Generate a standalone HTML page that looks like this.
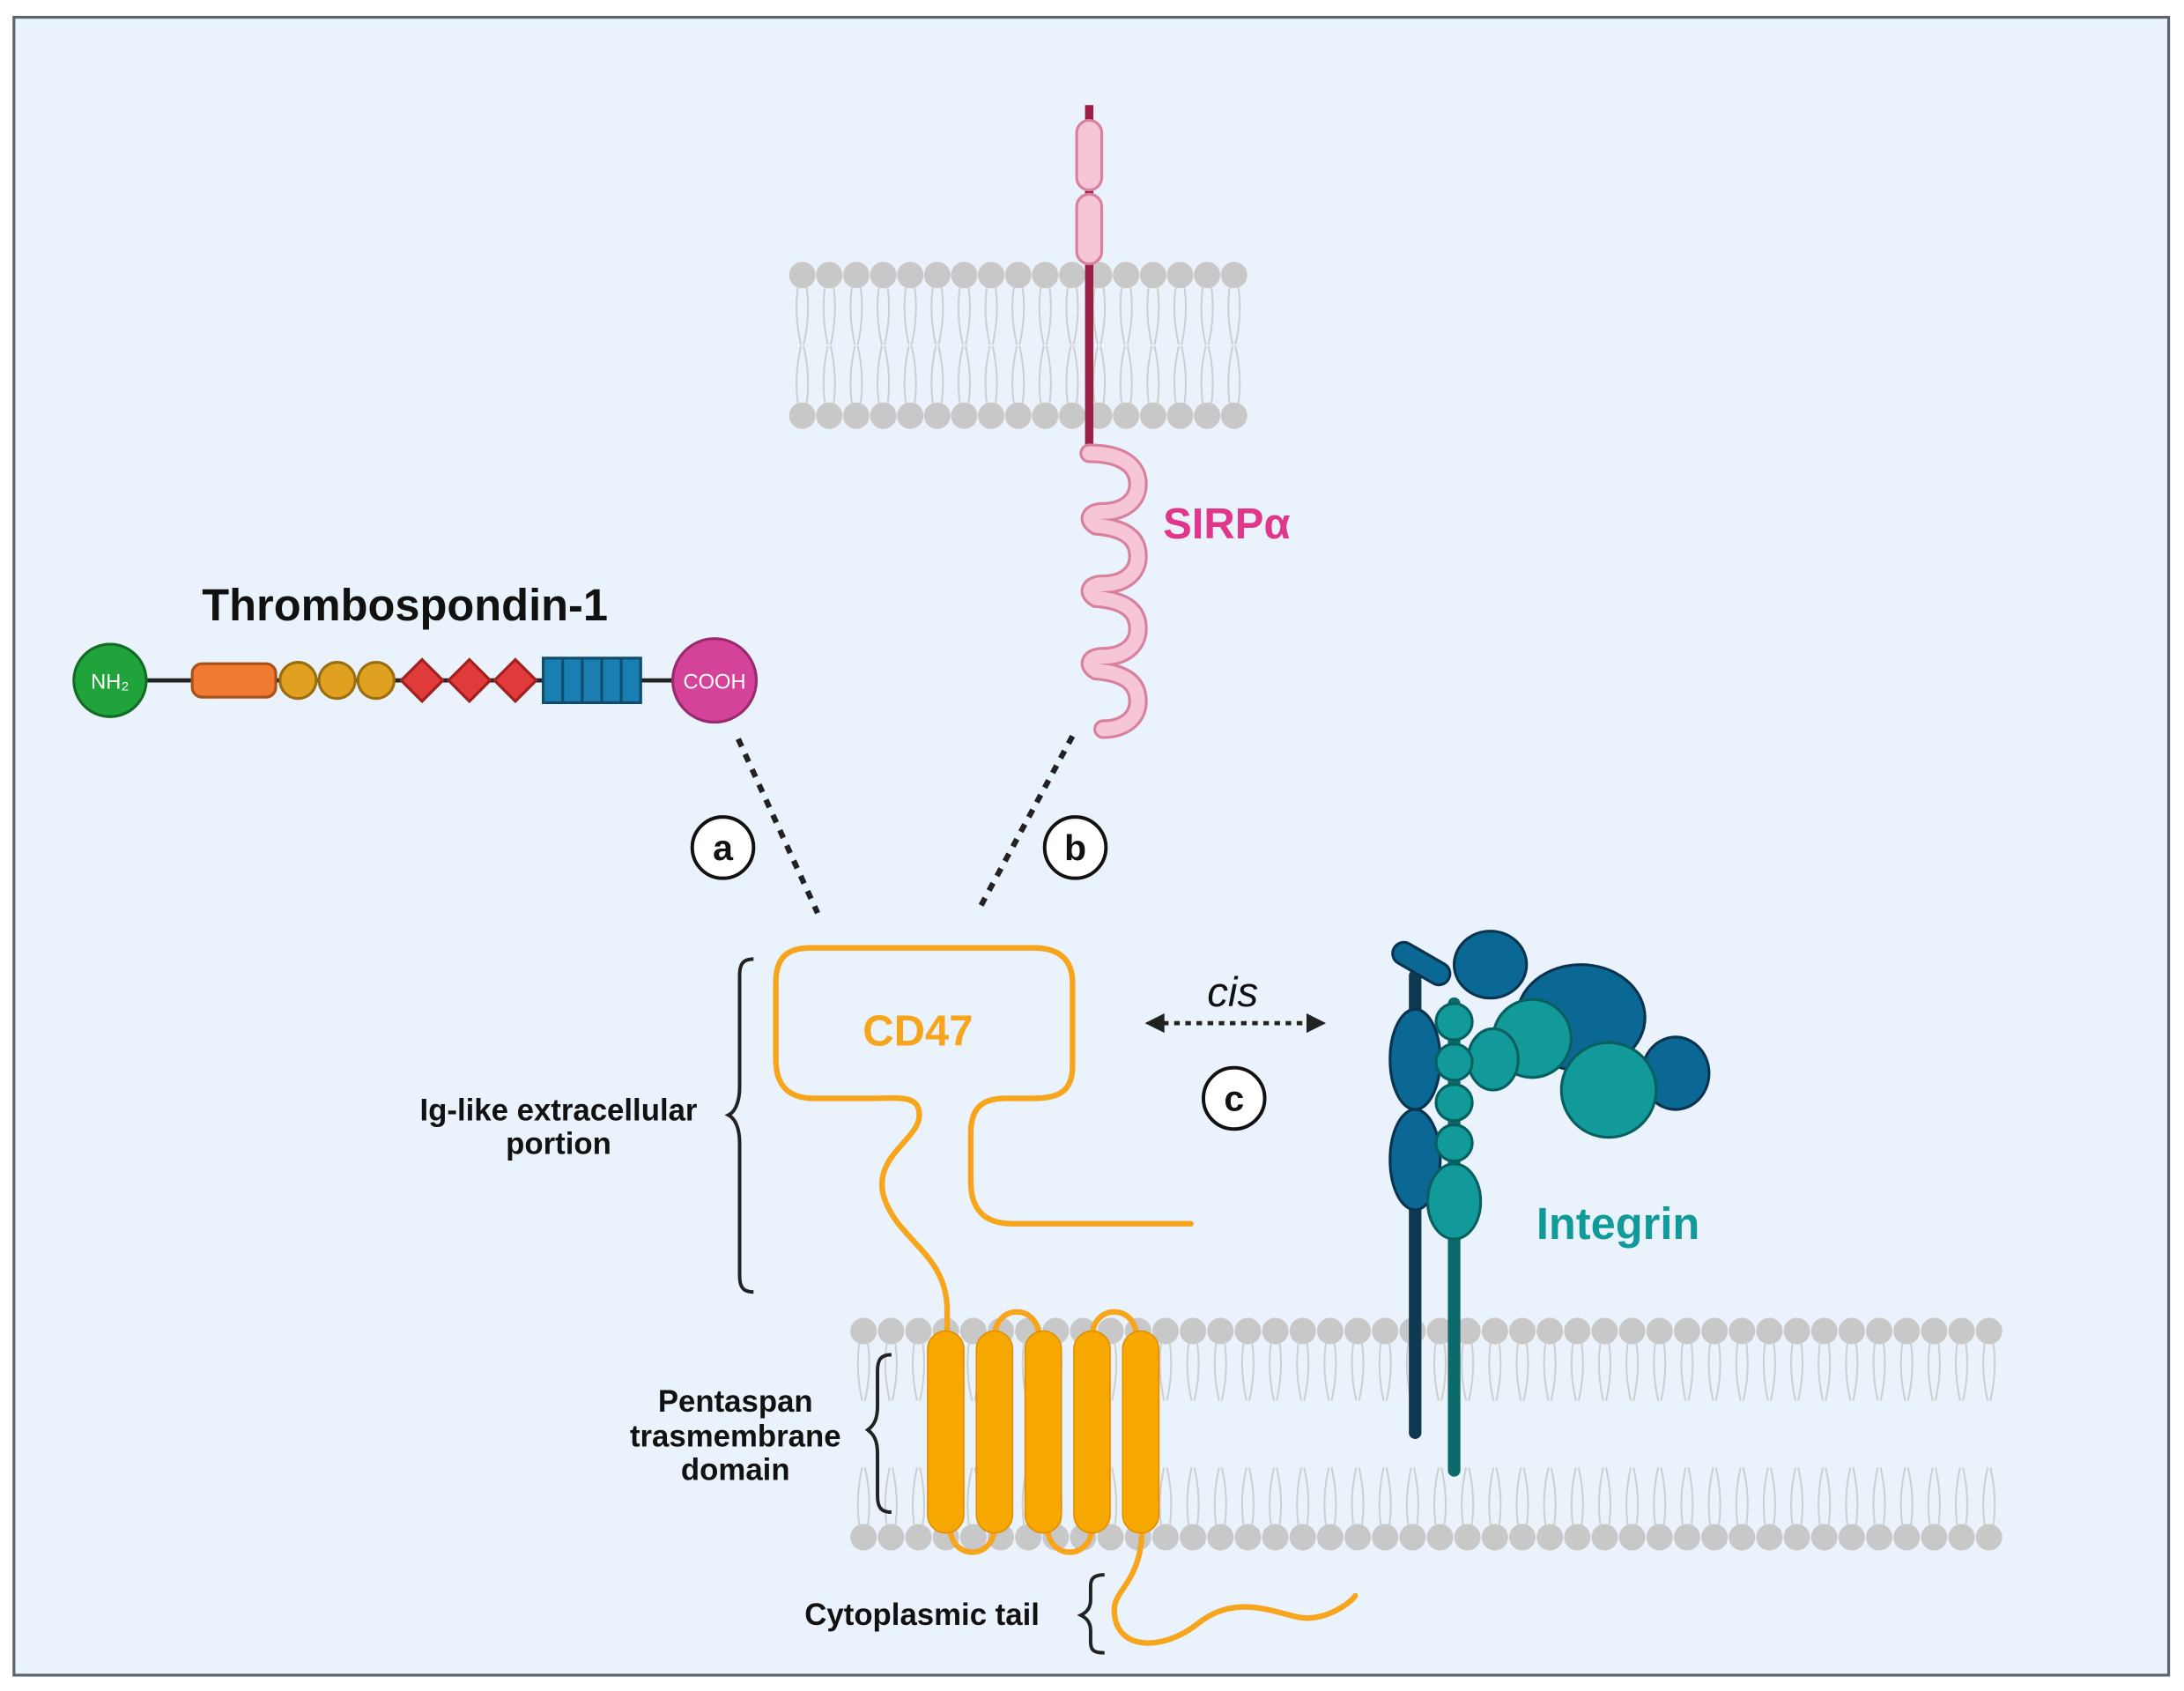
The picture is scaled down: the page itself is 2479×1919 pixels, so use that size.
<!DOCTYPE html>
<html><head><meta charset="utf-8"><style>
html,body{margin:0;padding:0;background:#fff}
svg{display:block}
text{font-family:"Liberation Sans",sans-serif}
</style></head><body>
<svg width="2479" height="1919" viewBox="0 0 1568 1213" xmlns="http://www.w3.org/2000/svg">
<defs>
<g id="lipT"><circle cx="0" cy="0" r="9.5" fill="#c8c8c8"/><path d="M-3 8 q-3 20 2 42 M3 8 q3 20 -2 42" stroke="#cfcfcf" stroke-width="1.3" fill="none"/></g>
<g id="lipB"><circle cx="0" cy="0" r="9.5" fill="#c8c8c8"/><path d="M-3 -8 q-3 -20 2 -42 M3 -8 q3 -20 -2 -42" stroke="#cfcfcf" stroke-width="1.3" fill="none"/></g>
</defs>
<rect x="0" y="0" width="1568" height="1213" fill="#fff"/>
<rect x="10" y="12" width="1547" height="1190" fill="#EAF3FB" stroke="#5a6470" stroke-width="2"/>

<g id="um"></g>
<script>
(function(){
var ns="http://www.w3.org/2000/svg";
function mem(x0,x1,yt,yb,parent){
 for(var x=x0;x<=x1+0.1;x+=(x1-x0)/Math.round((x1-x0)/19.5)){
  var u=document.createElementNS(ns,"use");u.setAttribute("href","#lipT");u.setAttribute("x",x);u.setAttribute("y",yt);parent.appendChild(u);
  var v=document.createElementNS(ns,"use");v.setAttribute("href","#lipB");v.setAttribute("x",x);v.setAttribute("y",yb);parent.appendChild(v);
 }
}
mem(576,886,197,298,document.getElementById("um"));
})();
</script>

<!-- SIRPa -->
<line x1="782" y1="75" x2="782" y2="328" stroke="#9a1f45" stroke-width="6"/>
<rect x="773" y="86" width="18" height="50" rx="9" fill="#f7c6d6" stroke="#d8809e" stroke-width="2"/>
<rect x="773" y="139" width="18" height="50" rx="9" fill="#f7c6d6" stroke="#d8809e" stroke-width="2"/>
<path d="M782 325 c25 0 35 10 35 22 c0 12 -10 20 -25 20 c-10 0 -12 6 -5 10 c25 2 30 12 30 22 c0 12 -10 20 -25 20 c-10 0 -12 6 -5 10 c25 2 30 12 30 22 c0 12 -10 20 -25 20 c-10 0 -12 6 -5 10 c25 2 30 12 30 22 c0 12 -10 20 -25 20" fill="none" stroke="#d8809e" stroke-width="14" stroke-linecap="round"/>
<path d="M782 325 c25 0 35 10 35 22 c0 12 -10 20 -25 20 c-10 0 -12 6 -5 10 c25 2 30 12 30 22 c0 12 -10 20 -25 20 c-10 0 -12 6 -5 10 c25 2 30 12 30 22 c0 12 -10 20 -25 20 c-10 0 -12 6 -5 10 c25 2 30 12 30 22 c0 12 -10 20 -25 20" fill="none" stroke="#f7c6d6" stroke-width="10" stroke-linecap="round"/>
<text x="835" y="386" font-size="31" font-weight="bold" fill="#e0368c">SIRPα</text>

<!-- Thrombospondin -->
<text x="145" y="445" font-size="32" font-weight="bold" fill="#111">Thrombospondin-1</text>
<line x1="100" y1="488" x2="490" y2="488" stroke="#222" stroke-width="3"/>
<circle cx="79" cy="488" r="26" fill="#1fa33a" stroke="#136b24" stroke-width="2"/>
<text x="79" y="494" font-size="15" fill="#fff" text-anchor="middle">NH₂</text>
<rect x="138" y="476" width="60" height="24" rx="7" fill="#ef7a30" stroke="#a8501a" stroke-width="2"/>
<circle cx="214" cy="488" r="13" fill="#e0a020" stroke="#9a6d10" stroke-width="2"/>
<circle cx="242" cy="488" r="13" fill="#e0a020" stroke="#9a6d10" stroke-width="2"/>
<circle cx="270" cy="488" r="13" fill="#e0a020" stroke="#9a6d10" stroke-width="2"/>
<path d="M303 473 l15 15 -15 15 -15 -15z M337 473 l15 15 -15 15 -15 -15z M370 473 l15 15 -15 15 -15 -15z" fill="#e03a3a" stroke="#a02020" stroke-width="2"/>
<rect x="390" y="472" width="70" height="32" fill="#1a7fb0" stroke="#0e4d6e" stroke-width="2"/>
<path d="M404 472v32M418 472v32M432 472v32M446 472v32" stroke="#0e4d6e" stroke-width="2"/>
<circle cx="513" cy="488" r="30" fill="#d4429a" stroke="#9a2a6e" stroke-width="2"/>
<text x="513" y="494" font-size="15" fill="#fff" text-anchor="middle">COOH</text>

<line x1="530" y1="530" x2="587" y2="655" stroke="#222" stroke-width="4" stroke-dasharray="6 6"/>
<line x1="770" y1="528" x2="703" y2="652" stroke="#222" stroke-width="4" stroke-dasharray="6 6"/>
<g font-size="26" font-weight="bold" text-anchor="middle" fill="#111">
<circle cx="519" cy="608" r="22" fill="#fff" stroke="#111" stroke-width="2.5"/><text x="519" y="617">a</text>
<circle cx="772" cy="608" r="22" fill="#fff" stroke="#111" stroke-width="2.5"/><text x="772" y="617">b</text>
<circle cx="886" cy="788" r="22" fill="#fff" stroke="#111" stroke-width="2.5"/><text x="886" y="797">c</text>
</g>

<line x1="835" y1="734" x2="940" y2="734" stroke="#222" stroke-width="3" stroke-dasharray="4 4"/>
<path d="M822 734 l14 -7 v14z M952 734 l-14 -7 v14z" fill="#222"/>
<text x="885" y="722" font-size="30" font-style="italic" text-anchor="middle" fill="#111">cis</text>

<g id="lm"></g>
<script>
(function(){
var ns="http://www.w3.org/2000/svg";var p=document.getElementById("lm");
var x0=620,x1=1428,n=Math.round((x1-x0)/19.5),d=(x1-x0)/n;
for(var i=0;i<=n;i++){var x=x0+i*d;
 var u=document.createElementNS(ns,"use");u.setAttribute("href","#lipT");u.setAttribute("x",x);u.setAttribute("y",955);p.appendChild(u);
 var v=document.createElementNS(ns,"use");v.setAttribute("href","#lipB");v.setAttribute("x",x);v.setAttribute("y",1103);p.appendChild(v);
}
})();
</script>

<!-- CD47 -->
<g fill="none" stroke="#f7a51c" stroke-width="4" stroke-linecap="round">
<path d="M660 800 c0 -15 -15 -12 -35 -12 h-40 c-20 0 -28 -10 -28 -28 v-55 c0 -18 8 -25 25 -25 h160 c18 0 28 8 28 25 v60 c0 18 -10 23 -28 23 h-20 c-18 0 -25 8 -25 25 v35 c0 20 10 30 30 30 h128"/>
<path d="M660 800 c0 18 -35 30 -25 60 c10 30 45 40 45 80 v20"/>
<path d="M714 960 c0 -25 32 -25 32 0 M784 960 c0 -25 32 -25 32 0"/>
<path d="M682 1095 c0 25 32 25 32 0 M752 1095 c0 25 32 25 32 0"/>
<path d="M820 1095 c0 40 -20 45 -20 60 c0 30 35 30 60 10 c25 -20 50 -10 70 -5 c20 5 40 -10 43 -15"/>
</g>
<g fill="#f7a800" stroke="#e08e00" stroke-width="1">
<rect x="666" y="955" width="26" height="145" rx="13"/>
<rect x="701" y="955" width="26" height="145" rx="13"/>
<rect x="736" y="955" width="26" height="145" rx="13"/>
<rect x="771" y="955" width="26" height="145" rx="13"/>
<rect x="806" y="955" width="26" height="145" rx="13"/>
</g>
<text x="659" y="750" font-size="31" font-weight="bold" text-anchor="middle" fill="#f7a51c">CD47</text>

<g fill="none" stroke="#222" stroke-width="2.5">
<path d="M541 688 c-8 0 -10 4 -10 12 v80 c0 12 -4 18 -8 20 c4 2 8 8 8 20 v95 c0 8 2 12 10 12"/>
<path d="M640 972 c-8 0 -10 4 -10 12 v25 c0 10 -3 14 -7 17 c4 3 7 7 7 17 v30 c0 8 2 12 10 12"/>
<path d="M793 1130 c-8 0 -10 3 -10 8 v10 c0 6 -3 9 -7 11 c4 2 7 5 7 11 v8 c0 6 2 8 10 8"/>
</g>
<g font-size="22" font-weight="bold" fill="#111" text-anchor="middle">
<text x="401" y="804">Ig-like extracellular</text>
<text x="401" y="828">portion</text>
<text x="528" y="1013">Pentaspan</text>
<text x="528" y="1038">trasmembrane</text>
<text x="528" y="1062">domain</text>
<text x="662" y="1166">Cytoplasmic tail</text>
</g>

<!-- Integrin -->
<line x1="1016" y1="700" x2="1016" y2="1028" stroke="#0d3a50" stroke-width="9" stroke-linecap="round"/>
<line x1="1044" y1="720" x2="1044" y2="1055" stroke="#0c6a6a" stroke-width="9" stroke-linecap="round"/>
<g stroke="#0a3350" stroke-width="2" fill="#0b6894">
<rect x="998" y="683" width="45" height="16" rx="8" transform="rotate(30 1020 691)"/>
<ellipse cx="1070" cy="692" rx="26" ry="24"/>
<ellipse cx="1135" cy="730" rx="46" ry="38"/>
<ellipse cx="1203" cy="770" rx="24" ry="26"/>
<ellipse cx="1016" cy="760" rx="18" ry="36"/>
<ellipse cx="1016" cy="832" rx="18" ry="36"/>
</g>
<g stroke="#07605f" stroke-width="2" fill="#129a9a">
<ellipse cx="1100" cy="745" rx="28" ry="28"/>
<ellipse cx="1155" cy="782" rx="34" ry="34"/>
<ellipse cx="1072" cy="760" rx="18" ry="22"/>
<circle cx="1044" cy="733" r="13"/>
<circle cx="1044" cy="762" r="13"/>
<circle cx="1044" cy="791" r="13"/>
<circle cx="1044" cy="820" r="13"/>
<ellipse cx="1044" cy="862" rx="19" ry="27"/>
</g>
<text x="1103" y="889" font-size="32" font-weight="bold" fill="#129a9a">Integrin</text>
</svg>
</body></html>
